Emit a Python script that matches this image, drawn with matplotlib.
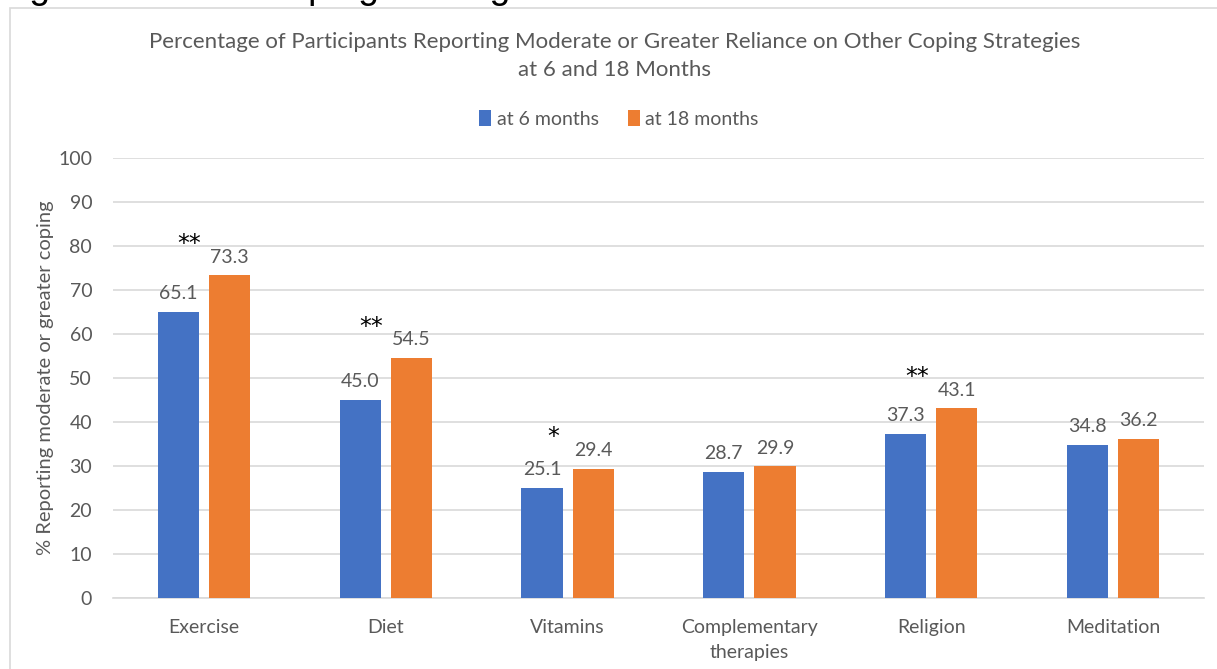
import matplotlib
matplotlib.use("Agg")
import matplotlib.pyplot as plt
import numpy as np
from matplotlib.patches import Rectangle

categories = ["Exercise", "Diet", "Vitamins", "Complementary\ntherapies", "Religion", "Meditation"]
months6 = [65.1, 45.0, 25.1, 28.7, 37.3, 34.8]
months18 = [73.3, 54.5, 29.4, 29.9, 43.1, 36.2]
stars = ["**", "**", "*", "", "**", ""]
series_names = ["at 6 months", "at 18 months"]
yticks = [0, 10, 20, 30, 40, 50, 60, 70, 80, 90, 100]

BLUE = "#4472C4"
ORANGE = "#ED7D31"
GRAY = "#595959"
FONT = "Lato"

fig = plt.figure(figsize=(12.17, 6.69), dpi=100)
ax = fig.add_axes([113/1217, 1-598/669, (1204-113)/1217, (598-158)/669])

x = np.arange(len(categories))
w = 0.226
gap = 0.055
b1 = ax.bar(x - (w+gap)/2, months6, w, color=BLUE, label=series_names[0], zorder=3)
b2 = ax.bar(x + (w+gap)/2, months18, w, color=ORANGE, label=series_names[1], zorder=3)

for bars, vals in ((b1, months6), (b2, months18)):
    for r, v in zip(bars, vals):
        ax.annotate(f"{v:.1f}", (r.get_x()+r.get_width()/2, v), xytext=(0, 7),
                    textcoords="offset points", ha="center", va="bottom",
                    fontsize=14, color=GRAY, family=FONT)

for xi, s, v in zip(x, stars, months18):
    if s:
        ax.text(xi - 0.08, v + 5.5, s, ha="center", va="baseline", fontsize=17,
                color="black", family="DejaVu Sans")

ax.set_xlim(-0.5, len(categories)-0.5)
ax.set_ylim(0, 100)
ax.set_yticks(yticks)
ax.set_xticks(x)
ax.set_xticklabels(categories, fontsize=14, color=GRAY, family=FONT, linespacing=1.6)
ax.tick_params(axis="y", labelsize=14, labelcolor=GRAY, length=0, pad=15)
ax.tick_params(axis="x", length=0, pad=15)
for t in ax.get_yticklabels():
    t.set_family(FONT)
ax.yaxis.grid(True, color="#d9d9d9", linewidth=1.2, zorder=0)
ax.set_axisbelow(True)
for sp in ["top", "right", "left"]:
    ax.spines[sp].set_visible(False)
ax.spines["bottom"].set_color("#d9d9d9")
ax.spines["bottom"].set_linewidth(1.2)

ax.set_ylabel("% Reporting moderate or greater coping", fontsize=14.5, color=GRAY,
              family=FONT, labelpad=3)

fig.text(615/1217, 1-56/669,
         "Percentage of Participants Reporting Moderate or Greater Reliance on Other Coping Strategies\nat 6 and 18 Months",
         ha="center", va="center", fontsize=16, color=GRAY, family=FONT, linespacing=1.45)

leg = fig.legend(handles=[b1, b2], loc="center", bbox_to_anchor=(619/1217, 1-119/669),
                 ncol=2, frameon=False, handlelength=0.6, handleheight=0.9,
                 handletextpad=0.3, columnspacing=1.5, prop={"family": FONT, "size": 14})
for t in leg.get_texts():
    t.set_color(GRAY)

fig.patches.append(Rectangle((10/1217, -0.1), 1.2, 1 - 8/669 + 0.1, transform=fig.transFigure,
                             fill=False, edgecolor="#d9d9d9", linewidth=1.2))

fig.text(-2/1217, 1 + 2/669, "Figure 3: Other Coping Strategies Used at 6 and 18 Months",
         ha="left", va="baseline", fontsize=27, color="black", family="Liberation Sans")

fig.savefig("out.png", dpi=100)
